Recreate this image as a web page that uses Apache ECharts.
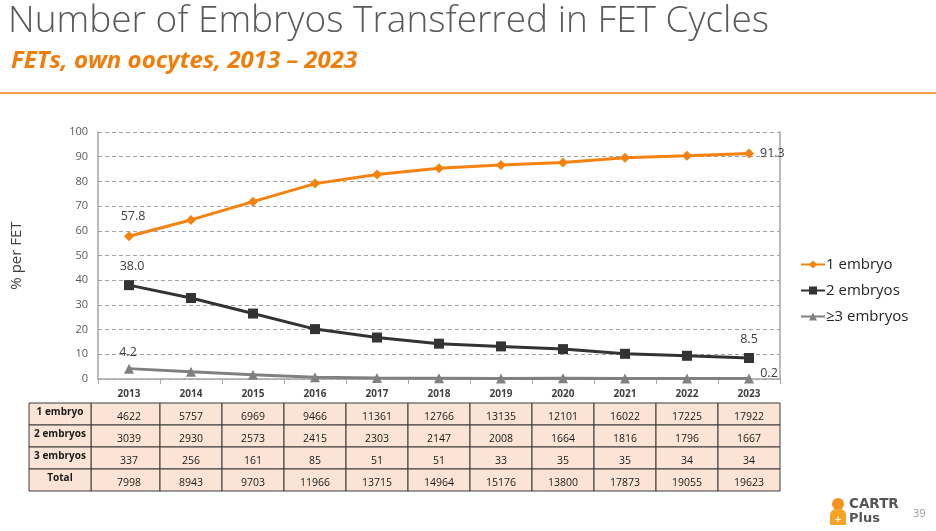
<!DOCTYPE html>
<html>
<head>
<meta charset="utf-8">
<script src="https://cdn.jsdelivr.net/npm/echarts@6/dist/echarts.min.js"></script>
<style>
html,body{margin:0;padding:0;background:#fff;}
#c{width:936px;height:531px;}
</style>
</head>
<body>
<div id="c"></div>
<script>
// ---- data ----
const years = ['2013','2014','2015','2016','2017','2018','2019','2020','2021','2022','2023'];
const oneEmbryo = [57.8, 64.4, 71.8, 79.1, 82.8, 85.3, 86.6, 87.7, 89.6, 90.4, 91.3];
const twoEmbryos = [38.0, 32.8, 26.5, 20.2, 16.8, 14.3, 13.2, 12.1, 10.2, 9.4, 8.5];
const threePlusEmbryos = [4.2, 2.9, 1.7, 0.7, 0.4, 0.3, 0.2, 0.3, 0.2, 0.2, 0.2];
const yTicks = [0, 100, 10]; // min, max, interval
const tableRowLabels = ['1 embryo', '2 embryos', '3 embryos', 'Total'];
const countsOne = [4622, 5757, 6969, 9466, 11361, 12766, 13135, 12101, 16022, 17225, 17922];
const countsTwo = [3039, 2930, 2573, 2415, 2303, 2147, 2008, 1664, 1816, 1796, 1667];
const countsThree = [337, 256, 161, 85, 51, 51, 33, 35, 35, 34, 34];
const countsTotal = [7998, 8943, 9703, 11966, 13715, 14964, 15176, 13800, 17873, 19055, 19623];

const tableCounts = [countsOne, countsTwo, countsThree, countsTotal];
const tableData = [];
tableCounts.forEach((row, r) => row.forEach((v, i) => tableData.push([i, r, v])));

const chart = echarts.init(document.getElementById('c'));
const labelFont = 'Open Sans';
const lastIdx = years.length - 1;

function mkLabelData(arr, firstOff, lastOff, lastPos) {
  return arr.map((v, i) => {
    if (i === 0) return { value: v, label: { show: true, position: 'top', offset: firstOff, formatter: v.toFixed(1) } };
    if (i === lastIdx) return { value: v, label: { show: true, position: lastPos, offset: lastOff, formatter: v.toFixed(1) } };
    return v;
  });
}

const dataLabelStyle = { color: '#404040', fontSize: 12.5, fontFamily: labelFont };

const option = {
  backgroundColor: '#fff',
  animation: false,
  title: [
    { text: 'Number of Embryos Transferred in FET Cycles', left: 3, top: -2,
      textStyle: { color: '#595959', fontSize: 37, fontWeight: 300, fontFamily: 'Open Sans' } },
    { text: 'FETs, own oocytes, 2013 – 2023', left: 6, top: 44,
      textStyle: { color: '#F07D0A', fontSize: 24, fontWeight: 'bold', fontStyle: 'italic', fontFamily: 'Open Sans' } }
  ],
  legend: {
    orient: 'vertical', left: 795, top: 252, itemWidth: 24, itemHeight: 10, itemGap: 11,
    textStyle: { color: '#262626', fontSize: 15, fontFamily: labelFont, padding: [0,0,0,-4] },
    data: ['1 embryo', '2 embryos', '≥3 embryos']
  },
  grid: [
    { left: 98, right: 156, top: 132, bottom: 152 },
    { left: 98, right: 156, top: 403, height: 88 }
  ],
  xAxis: [
    { type: 'category', gridIndex: 0, data: years, boundaryGap: true,
      axisLine: { lineStyle: { color: '#a6a6a6', width: 1.5 } },
      axisTick: { show: true, length: 5, lineStyle: { color: '#a6a6a6' } },
      axisLabel: { color: '#404040', fontSize: 10, fontWeight: 'bold', fontFamily: labelFont, margin: 10 } },
    { type: 'category', gridIndex: 1, data: years, show: false }
  ],
  yAxis: [
    { type: 'value', gridIndex: 0, min: yTicks[0], max: yTicks[1], interval: yTicks[2],
      name: '% per FET', nameLocation: 'middle', nameGap: 74, nameRotate: 90,
      nameTextStyle: { color: '#404040', fontSize: 15, fontFamily: labelFont },
      axisLine: { show: true, lineStyle: { color: '#a6a6a6', width: 1.5 } },
      axisTick: { show: false },
      axisLabel: { color: '#595959', fontSize: 11, fontFamily: labelFont, margin: 10 },
      splitLine: { lineStyle: { color: '#a0a0a0', type: [4, 3], width: 1 } } },
    { type: 'value', gridIndex: 0, position: 'right', min: yTicks[0], max: yTicks[1], interval: yTicks[2],
      axisLine: { show: true, lineStyle: { color: '#a6a6a6', width: 1.5 } },
      axisTick: { show: false }, axisLabel: { show: false }, splitLine: { show: false } },
    { type: 'category', gridIndex: 1, data: tableRowLabels, inverse: true, show: false }
  ],
  series: [
    { name: '1 embryo', type: 'line', xAxisIndex: 0, yAxisIndex: 0,
      data: mkLabelData(oneEmbryo, [4, -3], [1, 0], 'right'),
      symbol: 'diamond', symbolSize: 10,
      itemStyle: { color: '#F5820F' }, lineStyle: { color: '#F5820F', width: 3 },
      label: Object.assign({ show: false }, dataLabelStyle) },
    { name: '2 embryos', type: 'line', xAxisIndex: 0, yAxisIndex: 0,
      data: mkLabelData(twoEmbryos, [3, -2], [0, -2], 'top'),
      symbol: 'rect', symbolSize: 10,
      itemStyle: { color: '#333333' }, lineStyle: { color: '#333333', width: 3 },
      label: Object.assign({ show: false }, dataLabelStyle) },
    { name: '≥3 embryos', type: 'line', xAxisIndex: 0, yAxisIndex: 0,
      data: mkLabelData(threePlusEmbryos, [-1, 0], [20, 11], 'top'),
      symbol: 'triangle', symbolSize: 10,
      itemStyle: { color: '#808080' }, lineStyle: { color: '#808080', width: 3 },
      label: Object.assign({ show: false }, dataLabelStyle) },
    { name: 'table', type: 'custom', xAxisIndex: 1, yAxisIndex: 2, data: tableData, clip: false,
      renderItem: function (params, api) {
        const i = api.value(0), r = api.value(1), v = api.value(2);
        const c = api.coord([i, r]);
        const s = api.size([1, 1]);
        const w = s[0], h = s[1];
        let x0 = c[0] - w / 2;
        const y0 = c[1] - h / 2;
        let cw = w;
        const ext = 7;
        if (i === 0) { x0 -= ext; cw += ext; }
        const children = [
          { type: 'rect', shape: { x: x0, y: y0, width: cw, height: h },
            style: { fill: '#FBE4D5', stroke: '#3a3a3a', lineWidth: 1 } },
          { type: 'text', style: { text: String(v), x: c[0], y: y0 + h * 0.62,
            align: 'center', verticalAlign: 'middle', fill: '#1a1a1a', fontSize: 10.5, fontFamily: labelFont } }
        ];
        if (i === 0) {
          const lw = 62;
          children.push({ type: 'rect', shape: { x: x0 - lw, y: y0, width: lw, height: h },
            style: { fill: '#FBE4D5', stroke: '#3a3a3a', lineWidth: 1 } });
          children.push({ type: 'text', style: { text: tableRowLabels[r], x: x0 - lw / 2, y: y0 + h * 0.4,
            align: 'center', verticalAlign: 'middle', fill: '#1a1a1a', fontSize: 10, fontWeight: 'bold', fontFamily: labelFont } });
        }
        return { type: 'group', children: children };
      } }
  ],
  graphic: [
    { type: 'rect', shape: { x: 0, y: 92, width: 936, height: 2 }, style: { fill: '#F5A04C' } },
    // logo
    { type: 'circle', shape: { cx: 838, cy: 504, r: 6 }, style: { fill: '#F5921E' } },
    { type: 'rect', shape: { x: 830, y: 509, width: 16, height: 16, r: [6, 6, 1, 1] }, style: { fill: '#F7A325' } },
    { type: 'text', style: { text: '+', x: 838, y: 520, align: 'center', verticalAlign: 'middle', fill: '#fff', fontSize: 9, fontWeight: 'bold', fontFamily: 'DejaVu Sans' } },
    { type: 'text', style: { text: 'CARTR', x: 849, y: 497, fill: '#555', fontSize: 13.5, fontWeight: 'bold', fontFamily: 'DejaVu Sans' } },
    { type: 'text', style: { text: 'Plus', x: 849, y: 512, fill: '#555', fontSize: 13, fontWeight: 'bold', fontFamily: 'DejaVu Sans' } },
    { type: 'text', style: { text: '39', x: 913, y: 508, fill: '#999', fontSize: 11, fontFamily: labelFont } }
  ]
};
chart.setOption(option);
</script>
</body>
</html>
